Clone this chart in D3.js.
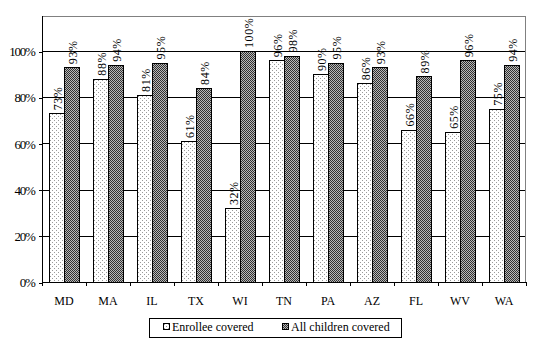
<!DOCTYPE html>
<html>
<head>
<meta charset="utf-8">
<script src="https://cdn.jsdelivr.net/npm/d3@7"></script>
<style>
  body { margin: 0; background: #fff; }
</style>
</head>
<body>
<div id="chart"></div>
<script>
// Daten
const states = ["MD", "MA", "IL", "TX", "WI", "TN", "PA", "AZ", "FL", "WV", "WA"]
const enrollee = [0.73, 0.88, 0.81, 0.61, 0.32, 0.96, 0.90, 0.86, 0.66, 0.65, 0.75]
const allChildren = [0.93, 0.94, 0.95, 0.84, 1.00, 0.98, 0.95, 0.93, 0.89, 0.96, 0.94]
const seriesNames = ["Enrollee covered", "All children covered"]
const yTicks = [0, 0.2, 0.4, 0.6, 0.8, 1.0]

const W = 544, H = 342
const FONT = "'Liberation Serif', 'Times New Roman', serif"
const svg = d3.select("#chart").append("svg")
  .attr("width", W)
  .attr("height", H)
  .attr("shape-rendering", "crispEdges")

// Muster für die Balken
const defs = svg.append("defs")
const dots = defs.append("pattern")
  .attr("id", "dots")
  .attr("patternUnits", "userSpaceOnUse")
  .attr("width", 4).attr("height", 4)
dots.append("rect").attr("width", 4).attr("height", 4).attr("fill", "#fff")
dots.append("rect").attr("x", 0).attr("y", 0).attr("width", 1).attr("height", 1).attr("fill", "#9a9a9a")
dots.append("rect").attr("x", 2).attr("y", 2).attr("width", 1).attr("height", 1).attr("fill", "#9a9a9a")

const checker = defs.append("pattern")
  .attr("id", "checker")
  .attr("patternUnits", "userSpaceOnUse")
  .attr("width", 2).attr("height", 2)
checker.append("rect").attr("width", 2).attr("height", 2).attr("fill", "#b8b8b8")
checker.append("rect").attr("x", 0).attr("y", 0).attr("width", 1).attr("height", 1).attr("fill", "#303030")
checker.append("rect").attr("x", 1).attr("y", 1).attr("width", 1).attr("height", 1).attr("fill", "#303030")

const fills = ["url(#dots)", "url(#checker)"]

// Skalen
const x = d3.scaleBand().domain(states).range([42, 526]).padding(0)
const xs = d3.scaleBand().domain([0, 1]).range([0, x.bandwidth()]).paddingInner(0).paddingOuter(0.4667)
const y = d3.scaleLinear().domain([0, 1]).range([282, 51])
const yTop = y(1.15)

// Gitterlinien
svg.append("g")
  .selectAll("line")
  .data(yTicks.slice(1))
  .enter().append("line")
  .attr("x1", 42).attr("x2", 526)
  .attr("y1", d => Math.round(y(d)) + 0.5)
  .attr("y2", d => Math.round(y(d)) + 0.5)
  .attr("stroke", "#000")

// Rahmen oben und rechts
svg.append("path")
  .attr("d", `M42,${Math.round(yTop) + 0.5}H525.5V282`)
  .attr("fill", "none")
  .attr("stroke", "#808080")

// Balken
const data = states.map((s, i) => ({ state: s, vals: [enrollee[i], allChildren[i]] }))
const groups = svg.append("g").selectAll("g")
  .data(data)
  .enter().append("g")
  .attr("transform", d => "translate(" + x(d.state) + ",0)")

groups.selectAll("rect")
  .data(d => d.vals.map((v, k) => ({ v, k })))
  .enter().append("rect")
  .attr("x", d => Math.round(xs(d.k)) + 0.5)
  .attr("y", d => Math.round(y(d.v)) + 0.5)
  .attr("width", Math.round(xs.bandwidth()))
  .attr("height", d => Math.round(y(0)) - Math.round(y(d.v)))
  .attr("fill", d => fills[d.k])
  .attr("stroke", "#000")

// Beschriftung für die Balken
groups.selectAll(".label")
  .data(d => d.vals.map((v, k) => ({ v, k })))
  .enter().append("text")
  .attr("class", "label")
  .attr("transform", d => "translate(" + (xs(d.k) + xs.bandwidth() / 2 + 1) + "," + (y(d.v) - 3) + ") rotate(-90)")
  .attr("dy", "0.35em")
  .style("font-size", "12px")
  .style("letter-spacing", "0.6px")
  .text(d => Math.round(d.v * 100) + "%")

// Achsen
svg.append("line")
  .attr("x1", 42.5).attr("x2", 42.5)
  .attr("y1", yTop).attr("y2", 283)
  .attr("stroke", "#000")
svg.append("line")
  .attr("x1", 42).attr("x2", 526)
  .attr("y1", 282.5).attr("y2", 282.5)
  .attr("stroke", "#000")

const yAxis = d3.axisLeft(y).tickValues(yTicks).tickSize(4).tickFormat(d3.format(".0%"))
svg.append("g")
  .attr("transform", "translate(42.5,0.5)")
  .call(yAxis)
  .call(g => g.select(".domain").remove())
  .call(g => g.selectAll(".tick line").attr("stroke", "#000"))
  .call(g => g.selectAll(".tick text")
    .attr("x", -8)
    .style("font-size", "13px")
    .style("letter-spacing", "-1.3px")
    .attr("fill", "#000"))

const xAxis = d3.axisBottom(x).tickSize(0).tickPadding(14)
svg.append("g")
  .attr("transform", "translate(0,282)")
  .call(xAxis)
  .call(g => g.select(".domain").remove())
  .call(g => g.selectAll(".tick text").style("font-size", "12px").attr("fill", "#000"))

// Striche zwischen den Kategorien
svg.append("g").selectAll("line")
  .data(states.concat(["end"]))
  .enter().append("line")
  .attr("x1", (d, i) => Math.round(42 + i * x.step()) + 0.5)
  .attr("x2", (d, i) => Math.round(42 + i * x.step()) + 0.5)
  .attr("y1", 282).attr("y2", 286)
  .attr("stroke", "#000")

// Legende
const legend = svg.append("g")
legend.append("rect")
  .attr("x", 149.5).attr("y", 318.5)
  .attr("width", 252).attr("height", 19)
  .attr("fill", "#fff").attr("stroke", "#000")

const legendX = [163, 282]
seriesNames.forEach((name, k) => {
  legend.append("rect")
    .attr("x", legendX[k] + 0.5).attr("y", 323.5)
    .attr("width", 6).attr("height", 6)
    .attr("fill", fills[k]).attr("stroke", "#000")
  legend.append("text")
    .attr("x", legendX[k] + 9).attr("y", 331)
    .style("font-size", "12px")
    .text(name)
})

// Schrift überall setzen
svg.selectAll("text").style("font-family", FONT).attr("fill", "#000")
</script>
</body>
</html>
